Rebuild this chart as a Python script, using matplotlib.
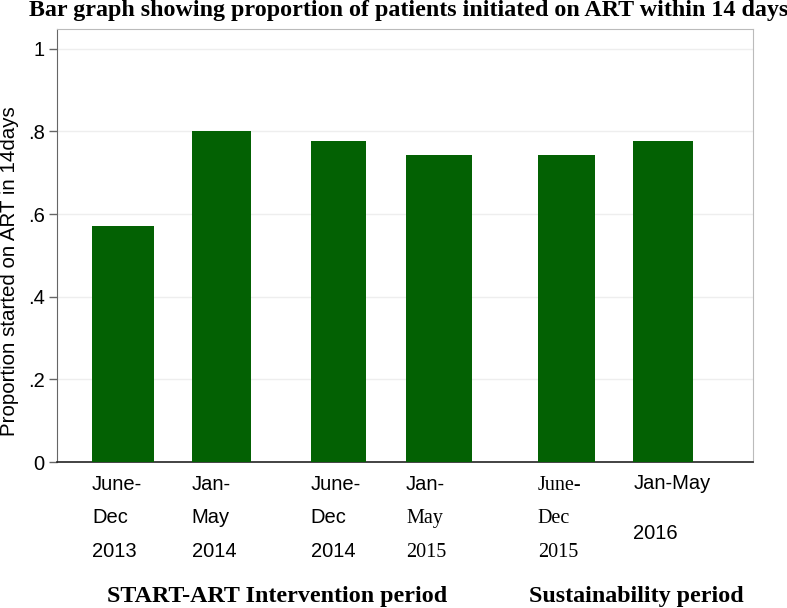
import matplotlib.pyplot as plt
import matplotlib.transforms as mtransforms

# data
periods = [
    ["June-", "Dec", "2013"],
    ["Jan-", "May", "2014"],
    ["June-", "Dec", "2014"],
    ["Jan-", "May", "2015"],
    ["June-", "Dec", "2015"],
    ["Jan-May", "2016"],
]
proportions = [0.572, 0.801, 0.777, 0.743, 0.743, 0.777]
yticks = [0, 0.2, 0.4, 0.6, 0.8, 1.0]
ytick_labels = ["0", ".2", ".4", ".6", ".8", "1"]
group_labels = ["START-ART Intervention period", "Sustainability period"]

# layout (axis runs 0..100 across the plot width)
centers = [9.5, 23.6, 40.4, 54.9, 73.2, 87.1]
widths = [8.9, 8.5, 7.9, 9.5, 8.2, 8.6]
SANS = "Liberation Sans"
SERIF = "Liberation Serif"
label_fonts = [
    [SANS, SANS, SANS],
    [SANS, SANS, SANS],
    [SANS, SANS, SANS],
    [SANS, SERIF, SERIF],
    [SERIF, SERIF, SERIF],
    [SANS, SANS],
]

W, H = 787, 608
fig = plt.figure(figsize=(W / 100, H / 100), dpi=100)
ax = fig.add_axes([57 / W, 1 - 462 / H, (753 - 57) / W, (462 - 29) / H])

ax.bar(centers, proportions, width=widths, color="#036103", zorder=3)

ax.set_xlim(0, 100)
ax.set_ylim(0, 1.048)
ax.set_xticks([])
ax.set_yticks(yticks)
ax.set_yticklabels(ytick_labels, fontsize=14.5, family=SANS)
ax.tick_params(axis="y", direction="out", length=6, width=1, color="#666666", pad=3)
for y in yticks[1:]:
    ax.axhline(y, color="#eeeeee", lw=1, zorder=1)

ax.spines["left"].set_color("#666666")
ax.spines["bottom"].set_color("#222222")
ax.spines["bottom"].set_linewidth(1.2)
ax.spines["top"].set_color("#bbbbbb")
ax.spines["right"].set_color("#bbbbbb")

fig.text(10 / W, 1 - 271 / H, "Proportion started on ART in 14days", rotation=90,
         ha="center", va="center", fontsize=14.8, family=SANS)

fig.text(29 / W, 1 - 16 / H, "Bar graph showing proportion of patients initiated on ART within 14 days",
         ha="left", va="baseline", fontsize=17.3, fontweight="bold", family=SERIF)

# period labels under each bar, left-aligned with the bar edge
trans = mtransforms.blended_transform_factory(ax.transData, fig.transFigure)
for i, lines in enumerate(periods):
    left = centers[i] - widths[i] / 2
    if len(lines) == 3:
        baselines = [490, 523, 557]
    else:
        baselines = [489, 539]
    for j, txt in enumerate(lines):
        fig.text(left, 1 - baselines[j] / H, txt, transform=trans, ha="left",
                 va="baseline", fontsize=14.5, family=label_fonts[i][j])

fig.text(277 / W, 1 - 602 / H, group_labels[0], ha="center", va="baseline",
         fontsize=17.3, fontweight="bold", family=SERIF)
fig.text(636 / W, 1 - 602 / H, group_labels[1], ha="center", va="baseline",
         fontsize=17.3, fontweight="bold", family=SERIF)

fig.savefig("out.png", dpi=100)
